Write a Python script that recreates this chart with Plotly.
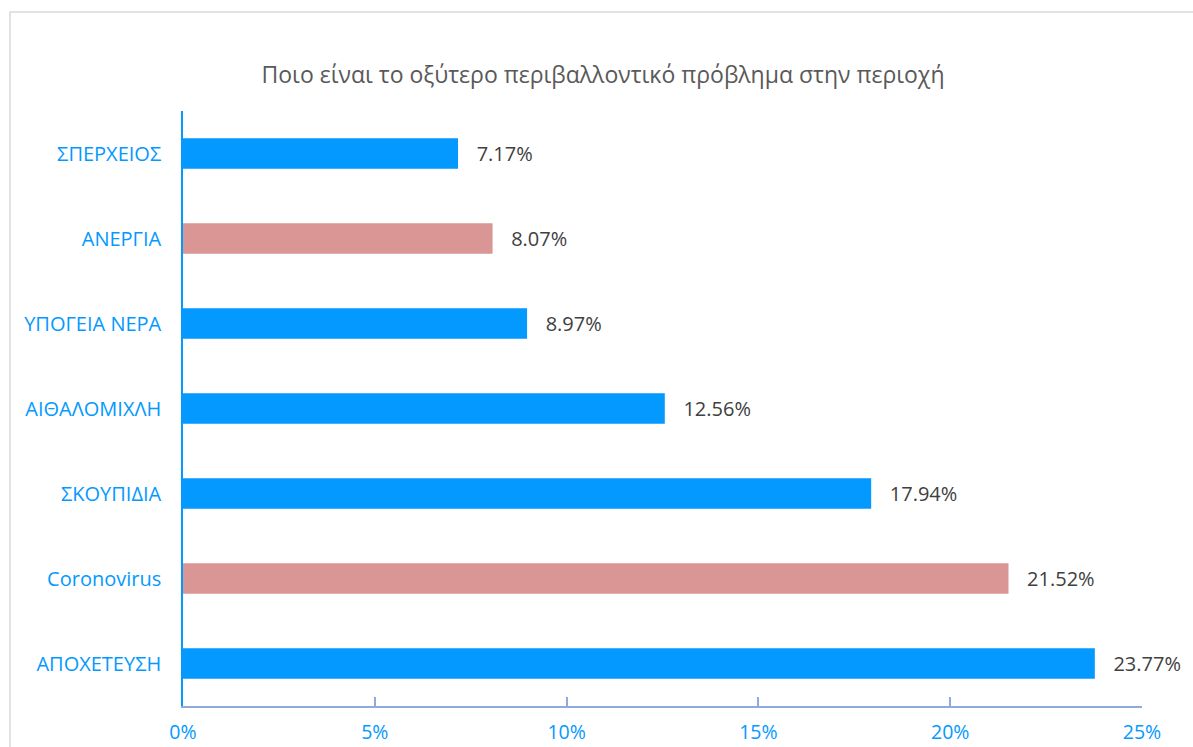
import plotly.graph_objects as go

categories = ["ΑΠΟΧΕΤΕΥΣΗ", "Coronovirus", "ΣΚΟΥΠΙΔΙΑ", "ΑΙΘΑΛΟΜΙΧΛΗ", "ΥΠΟΓΕΙΑ ΝΕΡΑ", "ΑΝΕΡΓΙΑ", "ΣΠΕΡΧΕΙΟΣ"]
values = [23.77, 21.52, 17.94, 12.56, 8.97, 8.07, 7.17]
colors = ["#0399FF", "#D99694", "#0399FF", "#0399FF", "#0399FF", "#D99694", "#0399FF"]
tick_vals = [0, 5, 10, 15, 20, 25]
tick_text = ["0%", "5%", "10%", "15%", "20%", "25%"]
title = "Ποιο είναι το οξύτερο περιβαλλοντικό πρόβλημα στην περιοχή"

font_family = "Open Sans, Noto Sans, sans-serif"
pad = "\u00a0\u00a0\u00a0"

fig = go.Figure(go.Bar(
    x=values, y=categories, orientation="h",
    marker=dict(color=colors, line=dict(width=0)),
    width=0.36,
    text=[f"{pad}{v:.2f}%" for v in values],
    textposition="outside",
    textfont=dict(color="#404040", size=20, family=font_family),
    cliponaxis=False,
))

fig.update_layout(
    width=1193, height=747,
    paper_bgcolor="white", plot_bgcolor="white",
    margin=dict(l=183, r=51, t=111, b=41, autoexpand=False),
    title=dict(text=title, x=603 / 1193, xanchor="center", xref="container", y=1 - 75 / 747, yanchor="middle",
               font=dict(size=23, color="#595959", family=font_family)),
    showlegend=False,
    xaxis=dict(range=[0, 25], tickvals=tick_vals, ticktext=tick_text, automargin=False,
               showgrid=False, zeroline=False, showline=True, linecolor="#8FAADC", linewidth=1.5,
               ticks="inside", ticklen=9, tickcolor="#8FAADC", tickwidth=1.5, ticklabelstandoff=8,
               tickfont=dict(color="#0399FF", size=19.5, family=font_family)),
    yaxis=dict(showgrid=False, zeroline=False, showline=True, linecolor="#0399FF", linewidth=1.5,
               ticks="", ticklabelstandoff=16, automargin=False,
               tickfont=dict(color="#0399FF", size=20, family=font_family)),
    shapes=[dict(type="rect", xref="paper", yref="paper",
                 x0=(10 - 183) / 959, x1=1.1, y0=-0.2, y1=1 + (111 - 12) / 595,
                 line=dict(color="#D9D9D9", width=1.5), fillcolor="rgba(0,0,0,0)", layer="below")],
)

fig.write_html("out.html", config={"displayModeBar": False},
               post_script="document.body.style.margin='0';document.body.style.overflow='hidden';")
